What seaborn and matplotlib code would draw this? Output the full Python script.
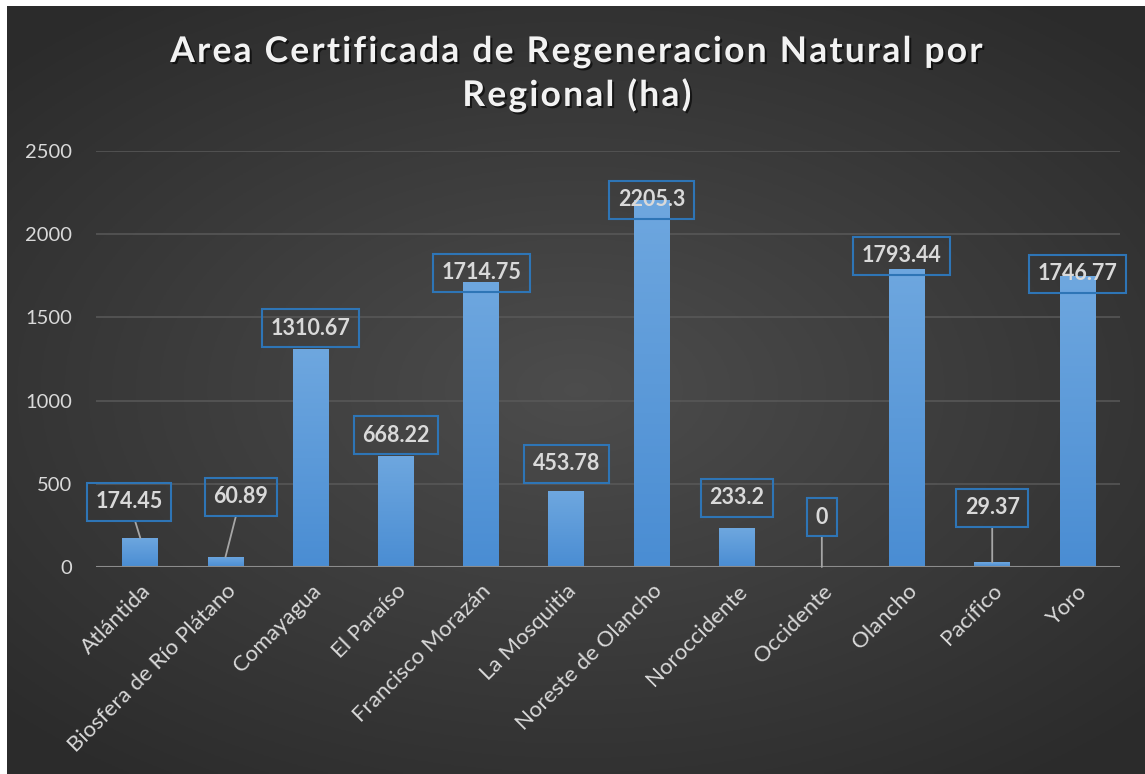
import numpy as np
import pandas as pd
import matplotlib
matplotlib.use("Agg")
import matplotlib.pyplot as plt
import matplotlib.patheffects as pe
import seaborn as sns

# ── data ──────────────────────────────────────────────────────────────────────
regions = ["Atlántida", "Biosfera de Río Plátano", "Comayagua", "El Paraíso",
           "Francisco Morazán", "La Mosquitia", "Noreste de Olancho",
           "Noroccidente", "Occidente", "Olancho", "Pacífico", "Yoro"]
area_ha = [174.45, 60.89, 1310.67, 668.22, 1714.75, 453.78, 2205.3,
           233.2, 0, 1793.44, 29.37, 1746.77]
y_ticks = [0, 500, 1000, 1500, 2000, 2500]

# label box placement (category offset, data-y) and whether a leader line is drawn
label_dx = [-0.13, 0.18, 0, 0, 0, 0, 0, 0, 0, -0.06, 0, 0]
label_y = [391, 421, 1436, 793, 1767, 619, 2206, 415, 300, 1869, 355, 1761]
leader = [True, True, False, False, False, False, False, False, True, False, True, False]

TXT = "#d9d9d9"
BOX = "#2e75b6"
FONT = "Lato"

df = pd.DataFrame({"region": regions, "area": area_ha})

sns.set_theme(style="dark")
plt.rcParams["font.family"] = [FONT, "DejaVu Sans"]

fig = plt.figure(figsize=(11.45, 7.74), dpi=100, facecolor="white")

# ── radial gradient background ───────────────────────────────────────────────
bg = fig.add_axes([7 / 1145, 0, 1 - 7 / 1145, 1 - 6 / 774])
gx, gy = np.meshgrid(np.linspace(-1, 1, 400), np.linspace(-1, 1, 300))
r = np.clip(np.sqrt((gx * 0.9) ** 2 + (gy * 1.0) ** 2) / 1.25, 0, 1)
shade = 0.30 - 0.13 * r
bg.imshow(np.dstack([shade] * 3), aspect="auto", extent=[0, 1, 0, 1])
bg.set_axis_off()

# ── bars ─────────────────────────────────────────────────────────────────────
ax = fig.add_axes([96 / 1145, 207 / 774, 1024 / 1145, 416 / 774])
ax.set_facecolor("none")
sns.barplot(data=df, x="region", y="area", color="#5b9bd5", width=0.42,
            saturation=1, ax=ax, zorder=3)

grad = np.linspace(0, 1, 100).reshape(-1, 1)
cmap = matplotlib.colors.LinearSegmentedColormap.from_list("b", ["#4a8dd3", "#6ea7df"])
for p in ax.patches:
    x0, y0 = p.get_x(), p.get_y()
    w, h = p.get_width(), p.get_height()
    if h <= 0:
        continue
    im = ax.imshow(grad, cmap=cmap, aspect="auto", origin="lower",
                   extent=[x0, x0 + w, y0, y0 + h], zorder=3.5)
    im.set_clip_path(p)
    p.set_edgecolor("none")

ax.set_xlim(-0.52, 11.5)
ax.set_ylim(0, 2500)
ax.set_yticks(y_ticks)
ax.yaxis.grid(True, color="#595959", linewidth=1.1)
ax.xaxis.grid(False)
ax.axhline(0, color="#8c8c8c", linewidth=1.5, zorder=4)
for s in ax.spines.values():
    s.set_visible(False)
ax.set_xlabel("")
ax.set_ylabel("")
ax.tick_params(axis="y", colors=TXT, labelsize=14.5, pad=17, length=0)
ax.tick_params(axis="x", colors=TXT, labelsize=16, length=0, pad=10)
ax.set_xticks(range(len(regions)))
ax.set_xticklabels(regions, rotation=45, ha="right", rotation_mode="anchor")

# ── data labels ──────────────────────────────────────────────────────────────
for i, (v, dx, ly, ld) in enumerate(zip(area_ha, label_dx, label_y, leader)):
    txt = f"{v:g}"
    kw = dict(ha="center", va="center", fontsize=15.5, fontweight="bold", color=TXT,
              bbox=dict(boxstyle="square,pad=0.4", fc="none", ec=BOX, lw=1.5),
              zorder=6)
    if ld:
        kw["arrowprops"] = dict(arrowstyle="-", color="#a6a6a6", lw=1.3,
                                shrinkA=0, shrinkB=0)
    ax.annotate(txt, xy=(i, v), xytext=(i + dx, ly), **kw)

# ── title (letter-spaced with hair spaces) ───────────────────────────────────
title_lines = ["Area Certificada de Regeneracion Natural por", "Regional (ha)"]
spaced = "\n".join("\u200a".join(line) for line in title_lines)
fig.text(577 / 1145, 1 - 74 / 774, spaced,
         ha="center", va="center", fontsize=25.5, fontweight="bold",
         color="#f2f2f2", linespacing=1.4,
         path_effects=[pe.withSimplePatchShadow(offset=(1.5, -1.5),
                                                 shadow_rgbFace="black", alpha=0.6)])

fig.savefig("out.png", dpi=100)
